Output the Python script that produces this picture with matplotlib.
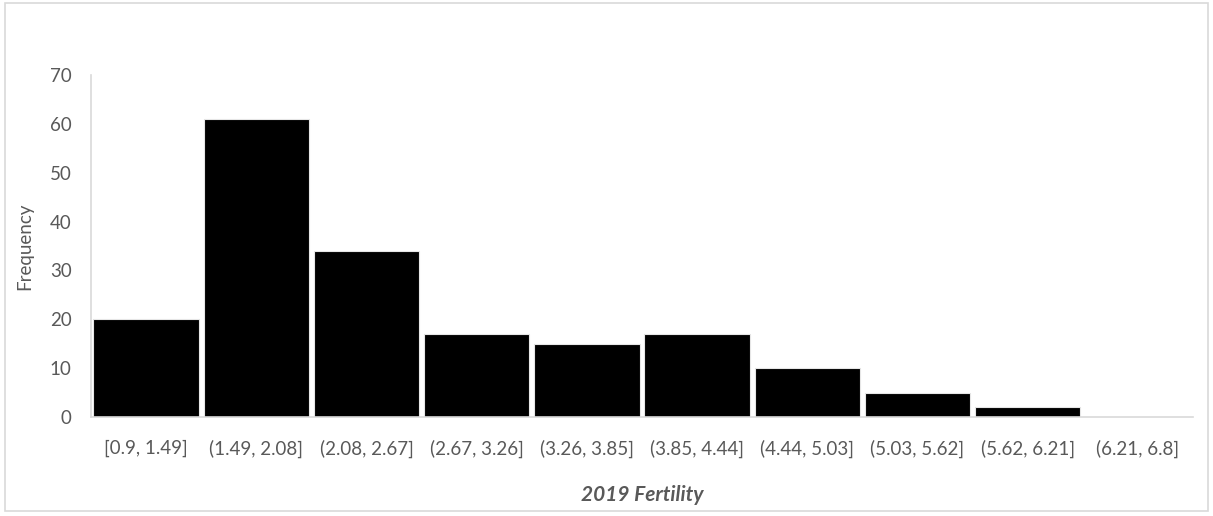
import matplotlib.pyplot as plt
from matplotlib.patches import Rectangle

bins = ['[0.9, 1.49]', '(1.49, 2.08]', '(2.08, 2.67]', '(2.67, 3.26]', '(3.26, 3.85]',
        '(3.85, 4.44]', '(4.44, 5.03]', '(5.03, 5.62]', '(5.62, 6.21]', '(6.21, 6.8]']
counts = [20, 61, 34, 17, 15, 17, 10, 5, 2, 0]
yticks = [0, 10, 20, 30, 40, 50, 60, 70]

plt.rcParams['font.family'] = ['Lato', 'DejaVu Sans']
grey = '#595959'

fig = plt.figure(figsize=(12.13, 5.16), dpi=100)
ax = fig.add_axes([0.075, 0.1919, 0.9085, 0.6628])

x = list(range(len(bins)))
ax.bar(x, counts, width=0.955, color='black', edgecolor='#e6e6e6', linewidth=0.8)

ax.set_xlim(-0.5, len(bins) - 0.5)
ax.set_ylim(0, 70)
ax.set_yticks(yticks)
ax.set_xticks(x)
ax.set_xticklabels(bins)
ax.tick_params(length=0, labelsize=13.5, colors=grey)
ax.tick_params(axis='x', pad=16)
ax.tick_params(axis='y', pad=14)

for s in ['top', 'right']:
    ax.spines[s].set_visible(False)
for s in ['left', 'bottom']:
    ax.spines[s].set_color('#d9d9d9')
    ax.spines[s].set_linewidth(1.2)

ax.set_xlabel('2019 Fertility', fontsize=15, color=grey, fontweight='bold',
              style='italic', labelpad=20)
ax.set_ylabel('Frequency', fontsize=13.5, color=grey, labelpad=12)

# chart area border
fig.patches.append(Rectangle((0.004, 0.01), 0.992, 0.985, transform=fig.transFigure,
                             fill=False, edgecolor='#d9d9d9', linewidth=1.2))

fig.savefig('out.png', dpi=100)
